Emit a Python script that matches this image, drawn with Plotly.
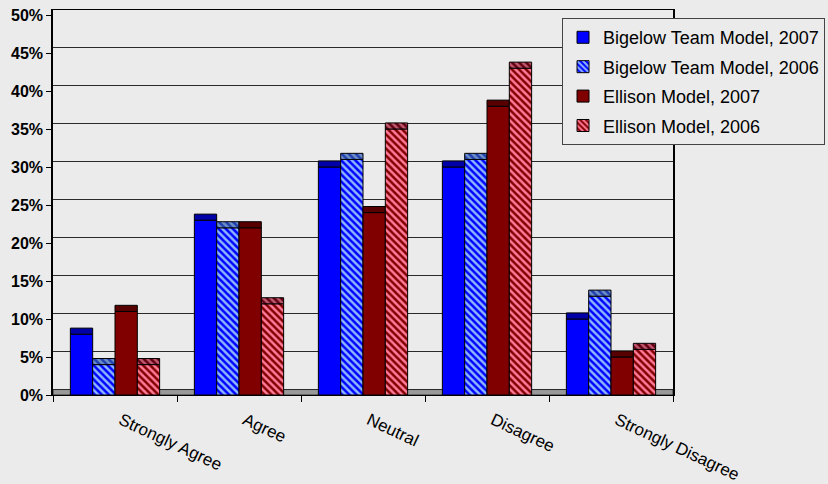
import plotly.graph_objects as go

# Survey responses by model and year (percent of respondents)
categories = ["Strongly Agree", "Agree", "Neutral", "Disagree", "Strongly Disagree"]
series_names = [
    "Bigelow Team Model, 2007",
    "Bigelow Team Model, 2006",
    "Ellison Model, 2007",
    "Ellison Model, 2006",
]
bigelow_2007 = [8, 23, 30, 30, 10]
bigelow_2006 = [4, 22, 31, 31, 13]
ellison_2007 = [11, 22, 24, 38, 5]
ellison_2006 = [4, 12, 35, 43, 6]
y_ticks = [0, 5, 10, 15, 20, 25, 30, 35, 40, 45, 50]

series_values = [bigelow_2007, bigelow_2006, ellison_2007, ellison_2006]

# face colour, stripe colour (None = solid), top-face colour, top-face stripe
styles = [
    ("#0000ff", None, "#0000a8", None),
    ("#0000ff", "#8cb8ff", "#2040b0", "#7090c8"),
    ("#800000", None, "#580000", None),
    ("#800000", "#ff7a98", "#600010", "#c05870"),
]

DEPTH = 0.8  # visible depth of each column's top face, in percent units
FONT = "Liberation Sans Narrow, Arial Narrow, Liberation Sans, Arial, sans-serif"
BG = "#ebebeb"

fig = go.Figure()

for i, (name, vals, st) in enumerate(zip(series_names, series_values, styles)):
    face, stripe, top, top_stripe = st
    pattern = dict(shape="\\", fgcolor=stripe, bgcolor=face, size=5, solidity=0.5,
                   fillmode="replace") if stripe else None
    top_pattern = dict(shape="\\", fgcolor=top_stripe, bgcolor=top, size=5, solidity=0.5,
                       fillmode="replace") if top_stripe else None
    fig.add_trace(go.Bar(
        x=categories, y=vals, name=name, offsetgroup=str(i), legendgroup=str(i),
        marker=dict(color=face, pattern=pattern, line=dict(color="#000000", width=1)),
    ))
    # top face of the 3-D column
    fig.add_trace(go.Bar(
        x=categories, y=[DEPTH] * len(vals), base=vals, offsetgroup=str(i),
        legendgroup=str(i), showlegend=False, hoverinfo="skip",
        marker=dict(color=top, pattern=top_pattern, line=dict(color="#000000", width=1)),
    ))

# floor of the chart between back wall and front edge
fig.add_shape(type="rect", xref="paper", yref="y2", x0=0, x1=1, y0=-0.72, y1=0,
              fillcolor="#999999", line=dict(color="#333333", width=1), layer="below")

fig.update_layout(
    width=828, height=484,
    margin=dict(l=53, r=155, t=10, b=89, autoexpand=False),
    paper_bgcolor=BG, plot_bgcolor=BG,
    barmode="group", bargap=0.28, bargroupgap=0,
    font=dict(family=FONT, size=14, color="#000000"),
    showlegend=True,
    legend=dict(
        x=0.821, y=0.979, xanchor="left", yanchor="top",
        bgcolor=BG, bordercolor="#444444", borderwidth=1,
        font=dict(family=FONT, size=18, color="#000000"),
        traceorder="grouped", tracegroupgap=3,
    ),
    xaxis=dict(
        type="category", tickson="boundaries", ticks="outside", ticklen=6,
        tickcolor="#000000", showline=True, linecolor="#000000", linewidth=1,
        mirror=True, showgrid=False, tickangle=25, automargin=False,
        ticklabelstandoff=8, ticklabelshift=6,
        tickfont=dict(family=FONT, size=17, color="#000000"),
    ),
    yaxis=dict(
        range=[0, 50.66], tickvals=y_ticks, ticktext=[f"{v}%" for v in y_ticks],
        ticks="outside", ticklen=5, tickcolor="#000000", automargin=False,
        showline=True, linecolor="#000000", linewidth=1.5, mirror=True,
        showgrid=False, zeroline=False,
        tickfont=dict(family=FONT, size=16, color="#000000", weight="bold"),
    ),
    yaxis2=dict(
        overlaying="y", range=[-0.72, 50], tickvals=y_ticks, showticklabels=False,
        showgrid=True, gridcolor="#2a2a2a", gridwidth=1.3, zeroline=False,
        showline=False, ticks="", automargin=False,
    ),
)

fig.write_html("out.html")
